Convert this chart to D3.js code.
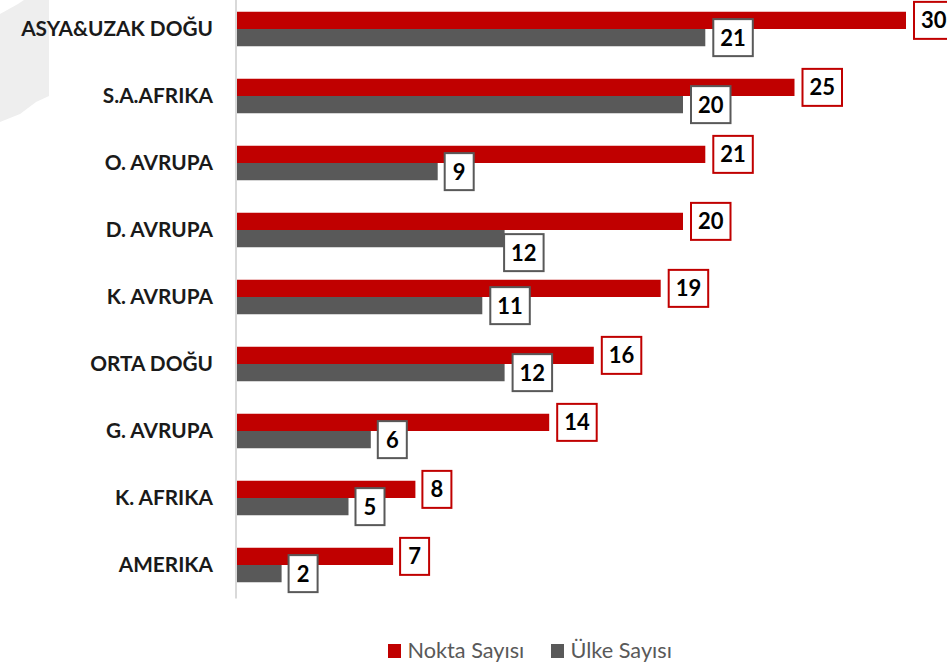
<!DOCTYPE html>
<html lang="tr">
<head>
  <meta charset="UTF-8">
  <title>Nokta ve Ülke Sayısı</title>
  <script src="https://cdnjs.cloudflare.com/ajax/libs/d3/7.8.5/d3.min.js"></script>
  <style>
    html, body {
      margin: 0;
      padding: 0;
      background: #fff;
      overflow: hidden;
    }
    svg {
      display: block;
      font-family: Lato, "Open Sans", sans-serif;
    }
  </style>
</head>
<body>
  <script>
    var categories = ["ASYA&UZAK DOĞU", "S.A.AFRIKA", "O. AVRUPA", "D. AVRUPA", "K. AVRUPA", "ORTA DOĞU", "G. AVRUPA", "K. AFRIKA", "AMERIKA"];
    var noktaSayisi = [30, 25, 21, 20, 19, 16, 14, 8, 7];
    var ulkeSayisi = [21, 20, 9, 12, 11, 12, 6, 5, 2];
    var seriesNames = ["Nokta Sayısı", "Ülke Sayısı"];
    var seriesColors = ["#c00000", "#595959"];

    var w = 947;
    var h = 667;

    var svg = d3.select("body").append("svg")
      .attr("width", w)
      .attr("height", h);

    // faint map remnant behind the chart
    svg.append("path")
      .attr("d", "M0,14 L18,4 L24,0 L49,0 L49,96 L36,102 L20,114 L0,122 Z")
      .attr("fill", "#eeeeee");

    var xScale = d3.scaleLinear()
      .domain([0, 30])
      .range([237, 906]);

    var yScale = d3.scaleBand()
      .domain(categories)
      .range([-4.5, 598.5]);

    var rowScale = d3.scaleBand()
      .domain(seriesNames)
      .range([0, 34.5]);

    var rows = seriesNames.map(function(name, s) {
      var values = s === 0 ? noktaSayisi : ulkeSayisi;
      return values.map(function(v, i) {
        return { series: name, color: seriesColors[s], cat: categories[i], value: v };
      });
    });

    function rowY(d) {
      return yScale(d.cat) + yScale.step() / 2 - 17.25 + rowScale(d.series);
    }

    rows.forEach(function(row) {
      svg.append("g").selectAll("rect")
        .data(row)
        .enter()
        .append("rect")
        .attr("x", xScale(0))
        .attr("y", rowY)
        .attr("width", function(d) {
          return xScale(d.value) - xScale(0);
        })
        .attr("height", rowScale.bandwidth())
        .attr("fill", function(d) {
          return d.color;
        });
    });

    var yAxis = d3.axisLeft()
      .scale(yScale)
      .tickSize(0)
      .tickPadding(23);

    var axisG = svg.append("g")
      .attr("transform", "translate(236, 0)")
      .call(yAxis);

    axisG.select(".domain")
      .attr("stroke", "#d9d9d9")
      .attr("stroke-width", 2)
      .attr("d", "M0,0 V598.5");

    axisG.selectAll("text")
      .attr("font-family", "Lato, 'Open Sans', sans-serif")
      .attr("font-size", 20.8)
      .attr("font-weight", 700)
      .attr("fill", "#1a1a1a");

    // gray labels sit on top of the red ones and bars
    rows.forEach(function(row) {
      var labels = svg.append("g").selectAll("g")
        .data(row)
        .enter()
        .append("g")
        .attr("transform", function(d) {
          var dx = d.value < 10 ? 7 : 8;
          var dy = 0;
          // this one label was dragged below its bar in the original
          if (d.cat === "D. AVRUPA" && d.series === "Ülke Sayısı") {
            dx = -0.5;
            dy = 14;
          }
          return "translate(" + (xScale(d.value) + dx) + "," + (rowY(d) + rowScale.bandwidth() / 2 + dy) + ")";
        });

      labels.append("rect")
        .attr("x", 0)
        .attr("y", -18.5)
        .attr("width", function(d) {
          return d.value < 10 ? 29 : 39.5;
        })
        .attr("height", 37)
        .attr("fill", "#fff")
        .attr("stroke", function(d) {
          return d.color;
        })
        .attr("stroke-width", 2);

      labels.append("text")
        .attr("x", function(d) {
          return d.value < 10 ? 14.5 : 19.75;
        })
        .attr("y", 8)
        .attr("text-anchor", "middle")
        .attr("font-size", 22)
        .attr("font-weight", 700)
        .attr("fill", "#000")
        .text(function(d) {
          return d.value;
        });
    });

    var legendX = d3.scaleOrdinal()
      .domain(seriesNames)
      .range([388, 551]);

    var legend = svg.append("g").selectAll("g")
      .data(seriesNames)
      .enter()
      .append("g")
      .attr("transform", function(d) {
        return "translate(" + legendX(d) + ",651)";
      });

    legend.append("rect")
      .attr("y", -7)
      .attr("width", 13)
      .attr("height", 14)
      .attr("fill", function(d, i) {
        return seriesColors[i];
      });

    legend.append("text")
      .attr("x", 19.5)
      .attr("y", 7)
      .attr("font-size", 21.7)
      .attr("fill", "#595959")
      .text(function(d) {
        return d;
      });
  </script>
</body>
</html>
